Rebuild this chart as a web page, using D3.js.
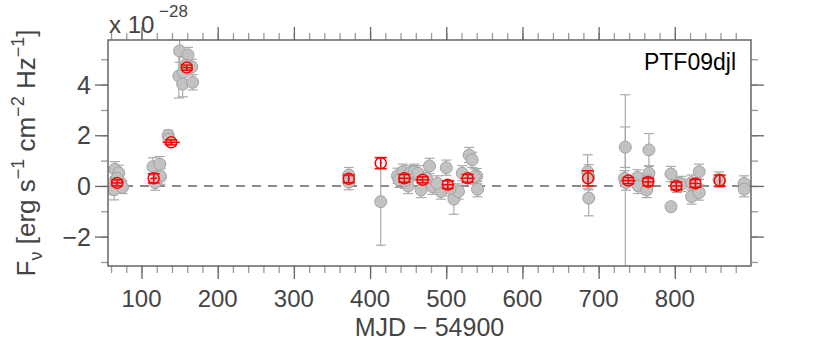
<!DOCTYPE html>
<html>
<head>
<meta charset="utf-8">
<script src="https://cdn.jsdelivr.net/npm/d3@7"></script>
<style>
body { margin: 0; background: #fff; }
text { font-family: "Liberation Sans", Arial, sans-serif; fill: #444; }
</style>
</head>
<body>
<div id="chart"></div>
<script>
// individual epochs (grey)
const grayMjd  = [62, 64, 65, 70, 72, 75, 68,
                  115, 124, 125, 118,
                  135, 136,
                  150, 161, 166, 158, 149, 154, 167, 155,
                  372, 372, 414,
                  436, 443, 452, 458, 463, 450, 467, 478, 482, 493, 500, 510, 516, 530, 534, 540, 541, 438, 521, 537, 446, 474, 488, 505,
                  685.6, 687, 687,
                  735, 735, 734, 736, 751, 752, 763, 766, 766, 765,
                  795, 795, 803, 809, 822, 832, 832, 822,
                  858, 891, 891];
const grayFlux = [0.10, -0.15, 0.66, 0.52, 0.15, -0.05, 0.3,
                  0.76, 0.86, 0.37, 0.13,
                  2.0, 1.85,
                  5.33, 5.17, 4.7, 4.77, 4.34, 4.02, 4.09, 4.48,
                  0.43, 0.15, -0.62,
                  0.4, 0.56, 0.5, 0.56, 0.5, 0.0, -0.16, 0.79, -0.03, -0.22, 0.72, -0.52, -0.22, 1.22, 1.03, 0.39, -0.13, 0.24, 0.5, 0.37, 0.2, 0.3, 0.1, -0.1,
                  0.56, 0.34, -0.48,
                  0.2, 1.53, 0.3, 0.13, 0.34, 0.0, -0.16, 1.42, 0.5, 0.21,
                  0.47, -0.82, 0.04, 0.08, -0.42, 0.56, -0.26, 0.13,
                  0.25, 0.1, -0.13];
const grayErr  = [0.45, 0.4, 0.3, 0.3, 0.3, 0.25, 0.25,
                  0.35, 0.3, 0.3, 0.3,
                  0.2, 0.2,
                  0.45, 0.3, 0.3, 0.3, 0.87, 0.5, 0.3, 0.3,
                  0.3, 0.3, 1.72,
                  0.3, 0.3, 0.3, 0.3, 0.3, 0.3, 0.3, 0.3, 0.3, 0.3, 0.3, 0.6, 0.3, 0.3, 0.3, 0.3, 0.3, 0.3, 0.3, 0.3, 0.3, 0.3, 0.3, 0.3,
                  0.67, 0.5, 0.7,
                  3.4, 0.8, 0.3, 0.3, 0.3, 0.3, 0.3, 0.65, 0.3, 0.3,
                  0.3, 0.15, 0.3, 0.3, 0.3, 0.3, 0.3, 0.3,
                  0.3, 0.3, 0.3];

// binned points (red)
const redMjd  = [68, 116, 139, 159.4, 372, 414, 445, 469, 502, 528, 686, 739, 765, 802, 827, 859];
const redFlux = [0.12, 0.3, 1.72, 4.67, 0.28, 0.9, 0.3, 0.24, 0.05, 0.3, 0.3, 0.21, 0.16, 0.0, 0.1, 0.21];
const redErr  = [0.12, 0.18, 0.1, 0.1, 0.15, 0.22, 0.15, 0.12, 0.15, 0.15, 0.3, 0.12, 0.15, 0.15, 0.15, 0.22];
const redDt   = [7, 3, 10, 6, 0, 0, 7, 8, 6, 8, 0, 8, 5, 5, 5, 0];

const xTicks = [100, 200, 300, 400, 500, 600, 700, 800];
const yTicks = [-2, 0, 2, 4];
const label = "PTF09djl";

const W = 830, H = 341;
const m = { top: 40, right: 79, bottom: 75, left: 108 };

const svg = d3.select("#chart").append("svg")
  .attr("width", W).attr("height", H);

const x = d3.scaleLinear().domain([56, 900]).range([m.left, W - m.right]);
const y = d3.scaleLinear().domain([-3.16, 5.76]).range([H - m.bottom, m.top]);

const gray = grayMjd.map((d, i) => ({ t: d, f: grayFlux[i], e: grayErr[i] }));
const red = redMjd.map((d, i) => ({ t: d, f: redFlux[i], e: redErr[i], dt: redDt[i] }));

// ticks on all four sides, outward
const minorX = d3.range(60, 900, 20), minorY = d3.range(-3, 6, 1);
function ticks(axis, vals, len, col) {
  axis.tickValues(vals).tickSize(len).tickFormat("");
  return g => { g.call(axis); g.select(".domain").remove();
    g.selectAll("line").attr("stroke", col).attr("stroke-width", 1.3); };
}
const bx = H - m.bottom, rx = W - m.right;
svg.append("g").attr("transform", `translate(0,${bx})`).call(ticks(d3.axisBottom(x), minorX, 7, "#999"));
svg.append("g").attr("transform", `translate(0,${bx})`).call(ticks(d3.axisBottom(x), xTicks, 13, "#666"));
svg.append("g").attr("transform", `translate(0,${m.top})`).call(ticks(d3.axisTop(x), minorX, 7, "#999"));
svg.append("g").attr("transform", `translate(0,${m.top})`).call(ticks(d3.axisTop(x), xTicks, 13, "#666"));
svg.append("g").attr("transform", `translate(${m.left},0)`).call(ticks(d3.axisLeft(y), minorY, 7, "#999"));
svg.append("g").attr("transform", `translate(${m.left},0)`).call(ticks(d3.axisLeft(y), yTicks, 13, "#666"));
svg.append("g").attr("transform", `translate(${rx},0)`).call(ticks(d3.axisRight(y), minorY, 7, "#999"));
svg.append("g").attr("transform", `translate(${rx},0)`).call(ticks(d3.axisRight(y), yTicks, 13, "#666"));

// tick labels
svg.append("g").selectAll("text").data(xTicks).join("text")
  .attr("x", d => x(d)).attr("y", 307).attr("text-anchor", "middle")
  .attr("font-size", 24).text(d => d);
svg.append("g").selectAll("text").data(yTicks).join("text")
  .attr("x", 91).attr("y", d => y(d) + 9).attr("text-anchor", "end")
  .attr("font-size", 25).text(d => d < 0 ? "\u2212" + Math.abs(d) : d);

// plot area clip
svg.append("clipPath").attr("id", "clip").append("rect")
  .attr("x", m.left).attr("y", m.top).attr("width", rx - m.left).attr("height", bx - m.top);
const plot = svg.append("g").attr("clip-path", "url(#clip)");

// zero line
plot.append("line")
  .attr("x1", m.left).attr("x2", rx).attr("y1", y(0)).attr("y2", y(0))
  .attr("stroke", "#666").attr("stroke-width", 1.6).attr("stroke-dasharray", "9,7");

// grey error bars
const ge = plot.append("g").attr("stroke", "#aaa").attr("stroke-width", 1.2);
ge.selectAll(".v").data(gray).join("line")
  .attr("x1", d => x(d.t)).attr("x2", d => x(d.t))
  .attr("y1", d => y(d.f - d.e)).attr("y2", d => y(d.f + d.e));
ge.selectAll(".c1").data(gray).join("line")
  .attr("x1", d => x(d.t) - 5).attr("x2", d => x(d.t) + 5)
  .attr("y1", d => y(d.f + d.e)).attr("y2", d => y(d.f + d.e));
ge.selectAll(".c2").data(gray).join("line")
  .attr("x1", d => x(d.t) - 5).attr("x2", d => x(d.t) + 5)
  .attr("y1", d => y(d.f - d.e)).attr("y2", d => y(d.f - d.e));

plot.append("g").selectAll("circle").data(gray).join("circle")
  .attr("cx", d => x(d.t)).attr("cy", d => y(d.f)).attr("r", 6)
  .attr("fill", "#c2c2c2").attr("stroke", "#a2a2a2").attr("stroke-width", 1);

// red binned points
const rg = plot.append("g").attr("stroke", "#f00").attr("stroke-width", 1.5).attr("fill", "none");
const rp = rg.selectAll("g").data(red).join("g");
rp.append("line")
  .attr("x1", d => x(d.t)).attr("x2", d => x(d.t))
  .attr("y1", d => y(d.f - d.e)).attr("y2", d => y(d.f + d.e));
rp.append("line")
  .attr("x1", d => x(d.t) - 6).attr("x2", d => x(d.t) + 6)
  .attr("y1", d => y(d.f + d.e)).attr("y2", d => y(d.f + d.e));
rp.append("line")
  .attr("x1", d => x(d.t) - 6).attr("x2", d => x(d.t) + 6)
  .attr("y1", d => y(d.f - d.e)).attr("y2", d => y(d.f - d.e));
rp.append("line")
  .attr("x1", d => x(d.t - d.dt) - 1).attr("x2", d => x(d.t + d.dt) + 1)
  .attr("y1", d => y(d.f)).attr("y2", d => y(d.f));
rp.append("circle")
  .attr("cx", d => x(d.t)).attr("cy", d => y(d.f)).attr("r", 5.5);

// frame
svg.append("rect")
  .attr("x", m.left).attr("y", m.top).attr("width", rx - m.left).attr("height", bx - m.top)
  .attr("fill", "none").attr("stroke", "#666").attr("stroke-width", 1.5);

// multiplier
svg.append("text").attr("x", 109).attr("y", 33).attr("font-size", 24).text("x 10");
svg.append("text").attr("x", 159).attr("y", 17).attr("font-size", 17).text("\u221228");

// name label
svg.append("text").attr("x", 736).attr("y", 70).attr("text-anchor", "end")
  .attr("font-size", 23).style("fill", "#000").text(label);

// axis titles
svg.append("text").attr("x", (m.left + rx) / 2).attr("y", 336).attr("text-anchor", "middle")
  .attr("font-size", 25).text("MJD \u2212 54900");

const yl = svg.append("text")
  .attr("transform", `translate(35,${(m.top + bx) / 2}) rotate(-90)`)
  .attr("text-anchor", "middle").attr("font-size", 26);
yl.append("tspan").text("F");
yl.append("tspan").attr("dy", 7).attr("font-size", 18).text("\u03bd");
yl.append("tspan").attr("dy", -7).text(" [erg s");
yl.append("tspan").attr("dy", -11).attr("font-size", 18).text("\u22121");
yl.append("tspan").attr("dy", 11).text(" cm");
yl.append("tspan").attr("dy", -11).attr("font-size", 18).text("\u22122");
yl.append("tspan").attr("dy", 11).text(" Hz");
yl.append("tspan").attr("dy", -11).attr("font-size", 18).text("\u22121");
yl.append("tspan").attr("dy", 11).text("]");
</script>
</body>
</html>
